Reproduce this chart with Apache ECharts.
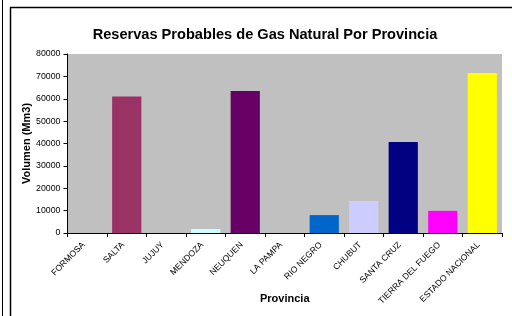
<!DOCTYPE html>
<html><head><meta charset="utf-8">
<script src="https://cdn.jsdelivr.net/npm/echarts@6/dist/echarts.min.js"></script>
<style>html,body{margin:0;padding:0;background:#fff}#c{width:512px;height:316px}</style>
</head><body><div id="c"></div>
<script>
var categories = ['FORMOSA','SALTA','JUJUY','MENDOZA','NEUQUEN','LA PAMPA','RIO NEGRO','CHUBUT','SANTA CRUZ','TIERRA DEL FUEGO','ESTADO NACIONAL'];
var values = [0, 61000, 0, 1800, 63500, 0, 8000, 14300, 40700, 9900, 71500];
var colors = ['#993366','#993366','#993366','#CCFFFF','#660066','#993366','#0066CC','#CCCCFF','#000080','#FF00FF','#FFFF00'];
var chart = echarts.init(document.getElementById('c'), null, {renderer:'canvas'});
var F = 'Liberation Sans, Arial, sans-serif';
chart.setOption({
  animation:false,
  title:{text:'Reservas Probables de Gas Natural Por Provincia', left:260, top:22, textAlign:'center',
    textStyle:{fontFamily:F, fontSize:14.6, fontWeight:'bold', color:'#000'}},
  grid:{left:67.5, right:10, top:54, bottom:83, show:true, backgroundColor:'#C0C0C0', borderWidth:0,
    containLabel:false, outerBoundsMode:'none'},
  xAxis:{type:'category', data:categories, name:'Provincia', nameLocation:'middle', nameGap:60, nameMoveOverlap:false,
    nameTextStyle:{fontFamily:F, fontSize:11, fontWeight:'bold', color:'#000'},
    axisLine:{lineStyle:{color:'#000', width:1}},
    axisTick:{show:true, alignWithLabel:false, length:4, lineStyle:{color:'#000'}},
    axisLabel:{rotate:45, fontFamily:F, fontSize:8.6, color:'#000', margin:7, interval:0, padding:[0,5,0,0]}},
  yAxis:{type:'value', min:0, max:80000, interval:10000, name:'Volumen (Mm3)', nameLocation:'middle', nameGap:35, nameMoveOverlap:false,
    nameTextStyle:{fontFamily:F, fontSize:11, fontWeight:'bold', color:'#000'},
    axisLine:{show:true, lineStyle:{color:'#000', width:1}},
    axisTick:{show:true, length:4, lineStyle:{color:'#000'}},
    splitLine:{show:false},
    axisLabel:{fontFamily:F, fontSize:8.8, color:'#000', margin:7, formatter:function(v){return String(v);}}},
  series:[{type:'bar', data:values.map(function(v,i){return {value:v, itemStyle:{color:colors[i]}};}),
    barCategoryGap:'26%'}],
  graphic:[
    {type:'line', shape:{x1:2.5,y1:0,x2:2.5,y2:316}, style:{stroke:'#000', lineWidth:1}},
    {type:'line', shape:{x1:10.5,y1:7,x2:10.5,y2:316}, style:{stroke:'#000', lineWidth:1.5}},
    {type:'line', shape:{x1:10,y1:7.5,x2:512,y2:7.5}, style:{stroke:'#000', lineWidth:1.5}}
  ]
});
</script></body></html>
